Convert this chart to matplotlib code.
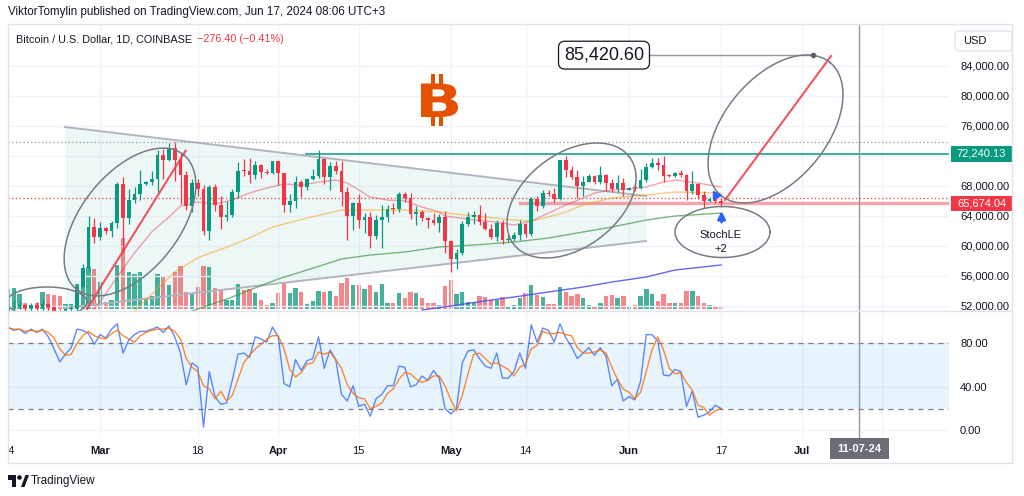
import numpy as np
import pandas as pd
import matplotlib
matplotlib.use("Agg")
import matplotlib.pyplot as plt
import matplotlib.dates as mdates
import matplotlib.transforms as mtrans
from matplotlib.patches import Rectangle, FancyBboxPatch, Polygon, Circle, PathPatch
from matplotlib.textpath import TextPath
from matplotlib.font_manager import FontProperties

plt.rcParams['font.family'] = ['Liberation Sans', 'DejaVu Sans']

# ------------------------------------------------------------------ data
start_date = '2024-02-14'   # first daily candle (BTC/USD, COINBASE, 1D)

opens = [49700, 51800, 51900, 52150, 51650, 52150, 51700, 52300, 51800, 51300, 50750, 51600, 51750, 54500, 57050, 62450,
         61150, 62400, 61950, 63100, 68300, 63750, 66100, 66900, 68300, 68450, 68950, 72100, 71450, 73100, 71400, 69450,
         65300, 68400, 67600, 61950, 67900, 65500, 63800, 64050, 67200, 70000, 69950, 69450, 70750, 69900, 69650,
         71300, 69700, 65450, 65950, 68500, 67850, 68900, 69350, 71600, 69150, 70600, 70000, 67150, 63950, 65700,
         63450, 63800, 61300, 63500, 63800, 64950, 64900, 66850, 66400, 64300, 64500, 63750, 63450, 63100, 63850,
         60650, 58300, 59100, 62900, 63900, 64050, 63200, 62300, 61200, 63100, 60800, 60850, 61500, 62900, 61600,
         66250, 65250, 67050, 66950, 66250, 71450, 70150, 69150, 67950, 68550, 69300, 68500, 69400, 68350, 67600, 68400,
         67500, 67750, 67700, 68800, 70550, 71100, 70800, 69350, 69300, 69650, 69500, 67300, 68250, 66750, 66000, 66200, 65950]
highs = [52000, 52800, 52600, 52200, 52350, 52450, 52950, 52400, 52000, 51550, 51700, 51950, 54900, 57550, 63950, 63650,
         63150, 62450, 63250, 68500, 69200, 67600, 67900, 70150, 68600, 69950, 72800, 72950, 73650, 73800, 72400, 70000,
         68900, 68950, 68100, 68100, 68250, 66650, 65950, 67550, 71150, 71550, 71700, 71300, 70900, 70300, 71350,
         71350, 69700, 66900, 69300, 68750, 69000, 70300, 72750, 71750, 71150, 71250, 71250, 67900, 65850, 66850,
         64350, 64500, 64100, 65450, 65400, 65650, 67200, 67200, 67050, 65250, 64800, 63900, 64350, 64200, 64700,
         60800, 59600, 63300, 64500, 64600, 65500, 64400, 62950, 63400, 63450, 61500, 61850, 63450, 63100, 66450,
         66700, 67450, 67450, 67700, 71500, 71950, 70650, 70100, 69250, 69550, 69500, 70600, 69550, 68900, 69500, 69000,
         67850, 68450, 70250, 71050, 71750, 71650, 71950, 69550, 69850, 70150, 69550, 69950, 68350, 67300, 66450, 66950, 66400]
lows = [49250, 51300, 51600, 50700, 51200, 51500, 50650, 50800, 50950, 50550, 50600, 51300, 50900, 54450, 56700, 60400,
        60800, 61600, 61150, 62400, 59200, 62850, 65650, 66100, 68050, 68150, 67150, 68850, 71350, 68600, 65600, 64800,
        64550, 66600, 61500, 60800, 64600, 62300, 63250, 63800, 66400, 69300, 68400, 68950, 69100, 69600, 69600,
        68150, 64550, 64500, 65100, 66550, 67450, 68800, 69050, 68200, 67500, 69550, 65250, 60800, 62150, 62350,
        61700, 59750, 60850, 59650, 63150, 64300, 64550, 65850, 63600, 62800, 63300, 62400, 62800, 61800, 59100,
        56550, 56900, 58800, 62600, 62900, 62800, 62100, 60850, 60650, 60200, 60500, 60650, 60750, 61150, 61350,
        64600, 65100, 66700, 65850, 66100, 69200, 68850, 66400, 66650, 68500, 68200, 68250, 67250, 67150, 67150, 66650,
        67400, 67300, 67600, 68550, 70400, 70150, 68500, 69200, 69150, 69200, 66100, 66900, 66300, 65100, 65850, 65700, 65150]
closes = [51800, 51900, 52150, 51650, 52150, 51700, 52300, 51800, 51300, 50750, 51600, 51750, 54500, 57050, 62450, 61150,
          62400, 61950, 63100, 68300, 63750, 66100, 66900, 68300, 68450, 68950, 72100, 71450, 73100, 71400, 69450, 65300,
          68400, 67600, 61950, 67900, 65500, 63800, 64050, 67200, 70000, 69950, 69450, 70750, 69900, 69650, 71300,
          69700, 65450, 65950, 68500, 67850, 68900, 69350, 71600, 69150, 70600, 70000, 67150, 63950, 65700, 63450,
          63800, 61300, 63500, 63800, 64950, 64900, 66850, 66400, 64300, 64500, 63750, 63450, 63100, 63850, 60650,
          58300, 59100, 62900, 63900, 64050, 63200, 62300, 61200, 63100, 60800, 60850, 61500, 62900, 61600, 66250,
          65250, 67050, 66950, 66250, 71450, 70150, 69150, 67950, 68550, 69300, 68500, 69400, 68350, 67600, 68400, 67500,
          67750, 67700, 68800, 70550, 71100, 70800, 69350, 69300, 69650, 69500, 67300, 68250, 66750, 66000, 66200, 65950, 65674.04]
# volume in thousand BTC (estimated bar heights)
volume_k = [20, 21, 15, 6, 4, 6, 17, 15, 14, 13, 5, 5, 25, 41, 42, 40,
            27, 7, 9, 44, 71, 37, 35, 37, 10, 13, 35, 32, 24, 37, 43, 17, 15, 22, 43, 42, 21, 20, 9, 9, 25, 19, 20, 16, 9, 4, 6,
            16, 26, 16, 21, 17, 5, 8, 18, 17, 18, 13, 26, 31, 24, 24, 20, 24, 17, 25, 6, 6, 16, 11, 17, 16, 11, 6, 6, 4, 23,
            29, 15, 17, 7, 6, 13, 12, 9, 9, 12, 3, 4, 11, 16, 24, 14, 12, 5, 5, 22, 17, 13, 15, 11, 4, 3, 6, 13, 14, 11, 13,
            3, 4, 13, 20, 15, 8, 15, 6, 6, 6, 18, 18, 13, 6, 4, 2, 2]
# Stoch RSI (3, 3, 14, 14)
stoch_k = [95, 92, 93, 89, 93, 90, 93, 86, 75, 63, 70, 76, 93, 92, 89, 79,
           88, 85, 93, 98, 71, 83, 88, 91, 91, 93, 95, 90, 96, 86, 71, 42, 62, 58, 3, 54, 31, 24, 25, 46, 70, 71, 67, 86, 84, 81, 95,
           86, 43, 40, 65, 55, 64, 66, 86, 57, 74, 65, 33, 27, 41, 22, 24, 13, 29, 33, 41, 41, 59, 58, 40, 42, 50, 46, 55, 48, 20,
           15, 20, 62, 73, 74, 66, 59, 57, 71, 48, 48, 54, 71, 57, 97, 81, 94, 92, 81, 98, 85, 77, 66, 71, 76, 69, 76, 68, 41, 47, 27,
           31, 28, 45, 88, 88, 82, 51, 50, 56, 54, 22, 36, 12, 14, 17, 23, 20]
stoch_d = [94, 93, 93, 91, 92, 91, 92, 90, 85, 75, 69, 70, 80, 87, 91, 87,
           85, 84, 89, 92, 87, 84, 81, 87, 90, 92, 93, 93, 94, 91, 84, 66, 58, 54, 41, 38, 29, 36, 27, 32, 47, 62, 69, 75, 79, 84, 87,
           87, 75, 56, 49, 53, 61, 62, 72, 70, 72, 65, 57, 42, 34, 30, 29, 20, 22, 25, 34, 38, 47, 53, 52, 47, 44, 46, 50, 50, 41,
           28, 18, 32, 52, 70, 71, 66, 61, 62, 59, 56, 50, 58, 61, 75, 78, 91, 89, 89, 90, 88, 87, 76, 71, 71, 72, 74, 71, 58, 47, 38,
           35, 29, 35, 54, 74, 86, 74, 57, 52, 53, 44, 37, 23, 21, 14, 18, 20]

# moving averages
ma20_dates = ['2024-02-29', '2024-03-01', '2024-03-04', '2024-03-07', '2024-03-10', '2024-03-13', '2024-03-15', '2024-03-18',
              '2024-03-21', '2024-03-24', '2024-03-27', '2024-03-30', '2024-04-02', '2024-04-05', '2024-04-08', '2024-04-11',
              '2024-04-13', '2024-04-15', '2024-04-17', '2024-04-20', '2024-04-23', '2024-04-26', '2024-04-29', '2024-04-30',
              '2024-05-05', '2024-05-09', '2024-05-12', '2024-05-15', '2024-05-18', '2024-05-21', '2024-05-24', '2024-05-26',
              '2024-05-29', '2024-06-01', '2024-06-04', '2024-06-07', '2024-06-09', '2024-06-13', '2024-06-17']
ma20_vals = [51570, 52500, 55840, 59040, 61840, 63840, 65300, 65840, 65570, 66100, 67040, 67700, 68240, 68100, 68500, 68770,
             68370, 67440, 66500, 66100, 65970, 65170, 64500, 63970, 63440, 63170, 62770, 63300, 64370, 65440, 66370, 67040,
             67440, 67570, 67840, 68500, 68770, 68370, 67840]
ma50_dates = ['2024-03-07', '2024-03-09', '2024-03-11', '2024-03-14', '2024-03-18', '2024-03-24', '2024-03-27', '2024-03-31',
              '2024-04-06', '2024-04-12', '2024-04-17', '2024-04-23', '2024-04-29', '2024-05-05', '2024-05-12', '2024-05-15',
              '2024-05-18', '2024-05-21', '2024-05-24', '2024-05-29', '2024-06-04', '2024-06-09', '2024-06-17']
ma50_vals = [51300, 52800, 54300, 56500, 58400, 60100, 61040, 62500, 63700, 64770, 64770, 64770, 64500, 63970, 63440, 63300,
             63840, 64500, 65440, 66370, 66770, 67170, 67040]
ma100_dates = ['2024-03-17', '2024-03-24', '2024-03-27', '2024-04-01', '2024-04-06', '2024-04-12', '2024-04-17', '2024-04-23',
               '2024-04-29', '2024-05-05', '2024-05-12', '2024-05-18', '2024-05-24', '2024-05-29', '2024-06-04', '2024-06-09',
               '2024-06-17']
ma100_vals = [51300, 53170, 54100, 55570, 56770, 58240, 58770, 59170, 59840, 60100, 60500, 61040, 61840, 62500, 63440, 63970, 64370]
ma200_dates = ['2024-04-26', '2024-05-01', '2024-05-08', '2024-05-12', '2024-05-18', '2024-05-24', '2024-05-29', '2024-06-04',
               '2024-06-09', '2024-06-17']
ma200_vals = [51440, 51970, 52770, 53170, 53840, 54500, 55170, 55840, 56770, 57440]

# levels and labels
ath_level = 73800
resistance_level = 72240.13
last_price = 65674.04
price_line_dotted = 66370
target_price = 85420.60
price_ticks = [52000, 56000, 60000, 64000, 68000, 72000, 76000, 80000, 84000]
hidden_price_labels = [72000]          # covered by the 72,240.13 marker
stoch_ticks = [0, 40, 80]
time_tick_dates = ['2024-02-14', '2024-03-01', '2024-03-18', '2024-04-01', '2024-04-15', '2024-05-01', '2024-05-14',
                   '2024-06-01', '2024-06-17', '2024-07-01', '2024-07-15']
time_tick_labels = ['14', 'Mar', '18', 'Apr', '15', 'May', '14', 'Jun', '17', 'Jul', '']
cursor_date = '2024-07-11'

# ------------------------------------------------------------------ layout
W, H = 1024, 496
fig = plt.figure(figsize=(W / 100, H / 100), dpi=100)
fig.patch.set_facecolor('white')

L, R = 8, 949
TOP, SEP, BOT = 24, 310.5, 438
rect_main = [L / W, 1 - SEP / H, (R - L) / W, (SEP - TOP) / H]
rect_st = [L / W, 1 - BOT / H, (R - L) / W, (BOT - SEP) / H]

ax = fig.add_axes(rect_main)
ax_vol = ax.twinx()
ax.set_zorder(2)
ax_vol.set_zorder(1)
ax.patch.set_visible(False)
ax_st = fig.add_axes(rect_st, sharex=ax)

def dnum(s):
    return mdates.date2num(np.datetime64(s))

base = dnum('2024-03-01')
def day(d):
    return base + d

dates = pd.date_range(start_date, periods=len(closes), freq='D')
xs = mdates.date2num(dates.values)
o = np.array(opens, float); h = np.array(highs, float)
lo = np.array(lows, float); c = np.array(closes, float)
up = c >= o
GREEN, RED = '#089981', '#f23645'

ax.set_xlim(day(-16), day(147.65))
ax.set_ylim(51373, 89573)
ax_vol.set_ylim(-1.5, 285)
ax_st.set_ylim(-7.08, 110.2)

for a in (ax, ax_vol, ax_st):
    for sp in a.spines.values():
        sp.set_visible(False)

# grid / ticks
tick_x = [dnum(s) for s in time_tick_dates]
ax_st.set_xticks(tick_x)
ax_st.set_xticklabels(time_tick_labels)
for lab in ax_st.get_xticklabels():
    if lab.get_text() in ('Mar', 'Apr', 'May', 'Jun', 'Jul'):
        lab.set_fontweight('bold')
ax_st.tick_params(axis='x', length=0, pad=6, labelsize=8, labelcolor='#131722')
ax.tick_params(axis='x', length=0, labelbottom=False)
ax_vol.tick_params(axis='both', length=0, labelbottom=False, labelright=False, labelleft=False)
ax_vol.set_yticks([])

ax.yaxis.tick_right()
ax.set_yticks(price_ticks)
ax.set_yticklabels(['' if v in hidden_price_labels else f'{v:,.2f}' for v in price_ticks])
ax.tick_params(axis='y', length=0, pad=8, labelsize=8, labelcolor='#131722')
ax_st.yaxis.tick_right()
ax_st.set_yticks(stoch_ticks)
ax_st.set_yticklabels([f'{v:.2f}' for v in stoch_ticks])
ax_st.tick_params(axis='y', length=0, pad=8, labelsize=8, labelcolor='#131722')

ax.set_axisbelow(True)
ax.grid(True, color='#f0f3fa', lw=1)
ax_st.set_axisbelow(True)
ax_st.grid(True, color='#f0f3fa', lw=1)

# volume
vol_colors = np.where(up, '#46b29b', '#f7868b')
ax_vol.bar(xs, volume_k, width=0.78, color=vol_colors, lw=0)

# symmetrical triangle drawing
tri_x = [day(-6.087), day(94.96)]
tri_upper = [75840, 66640]
tri_lower = [51707, 60640]
ax.fill_between(tri_x, tri_lower, tri_upper, color=GREEN, alpha=0.07, lw=0, zorder=1)
ax.plot(tri_x, tri_upper, color='#b2b5be', lw=1.4, zorder=2)
ax.plot(tri_x, tri_lower, color='#b2b5be', lw=1.4, zorder=2)

# horizontal levels
ax.axhline(ath_level, color='#9598a1', lw=0.9, ls=(0, (1, 2)), zorder=2)
ax.axhline(price_line_dotted, color=RED, lw=0.9, ls=(0, (1, 2)), zorder=2)
x_right = day(147.65)
ax.plot([day(35.9), x_right], [resistance_level] * 2, color=GREEN, lw=1.1, zorder=3)
ax.plot([day(73.0), x_right], [last_price] * 2, color=RED, lw=2.4, alpha=0.45, zorder=3)

# moving averages
def ma_line(dl, vl, **kw):
    ax.plot(mdates.date2num(pd.to_datetime(dl).values), vl, **kw)

ma_line(ma200_dates, ma200_vals, color='#4a4af0', lw=1.0, alpha=0.85, zorder=3)
ma_line(ma100_dates, ma100_vals, color='#388e3c', lw=1.0, alpha=0.65, zorder=3)
ma_line(ma50_dates, ma50_vals, color='#ff9800', lw=1.0, alpha=0.5, zorder=3)
ma_line(ma20_dates, ma20_vals, color=RED, lw=1.0, alpha=0.45, zorder=3)

# candles
ax.vlines(xs, lo, h, colors=np.where(up, GREEN, RED), lw=0.9, zorder=4)
body_b = np.minimum(o, c)
body_h = np.maximum(np.abs(c - o), 130)
ax.bar(xs, body_h, bottom=body_b, width=0.66, color=np.where(up, GREEN, RED), lw=0, zorder=5)

# trend lines
ax.plot([day(-2.26), day(14.9)], [51573, 72680], color=RED, lw=1.5, alpha=0.85, zorder=6)
ax.plot([day(108.7), day(127.13)], [66107, 85307], color=RED, lw=1.5, alpha=0.85, zorder=6)

# target callout
ax.plot([day(87.65), day(124.0)], [target_price] * 2, color='#9598a1', lw=1.0, zorder=6)
ax.plot([day(124.0)], [target_price], 'o', color='#5d606b', ms=3, zorder=7)
ax.text(day(87.65), target_price, f'{target_price:,.2f}', ha='center', va='center', fontsize=13,
        color='#131722', zorder=8,
        bbox=dict(boxstyle='round,pad=0.3,rounding_size=0.35', fc='white', ec='#131722', lw=0.9))

# StochLE signal
ax.annotate('', xy=(day(108.1), 65000), xytext=(day(108.1), 62800),
            arrowprops=dict(arrowstyle='-|>', color='#2962ff', lw=2.0, mutation_scale=11), zorder=7)
ax.plot([day(107.25)], [66770], marker='>', color='#2962ff', ms=5.5, zorder=7)
ax.text(day(108.0), 61440, 'StochLE', ha='center', va='center', fontsize=8, color='#131722', zorder=7)
ax.text(day(108.0), 59570, '+2', ha='center', va='center', fontsize=8, color='#131722', zorder=7)

# cursor vertical line
for a in (ax, ax_st):
    a.axvline(dnum(cursor_date), color='#9598a1', lw=1.0, zorder=6)

# ellipses (major-axis endpoints in data coords, minor half-width in px)
def ellipse(axx, p1, p2, half_minor_px, **kw):
    T = axx.transData
    a = T.transform(p1); b = T.transform(p2)
    cc = (a + b) / 2; u = (b - a) / 2
    n = np.array([-u[1], u[0]]) / np.hypot(*u) * half_minor_px
    t = np.linspace(0, 2 * np.pi, 300)
    pts = cc + np.outer(np.cos(t), u) + np.outer(np.sin(t), n)
    dpts = T.inverted().transform(pts)
    axx.plot(dpts[:, 0], dpts[:, 1], **kw)

ell_kw = dict(color='#787b86', lw=1.1, zorder=6)
ellipse(ax, (day(-16.17), 52507), (day(-2.26), 52507), 15, **ell_kw)
ellipse(ax, (day(-4.09), 54200), (day(14.52), 72147), 49, **ell_kw)
ellipse(ax, (day(71.91), 60240), (day(92.09), 71840), 47, **ell_kw)
ellipse(ax, (day(108.0), 66707), (day(126.96), 84440), 51.4, **ell_kw)
ellipse(ax, (day(100.0), 61840), (day(116.52), 61840), 25.5, **ell_kw)

# right price labels
bt = mtrans.blended_transform_factory(ax.transAxes, ax.transData)
x_box0 = (951 - L) / (R - L)
x_boxw = (1012 - 951) / (R - L)
x_txt = (981.5 - L) / (R - L)
ax.add_patch(Rectangle((x_box0, resistance_level - 1067), x_boxw, 2133, transform=bt, fc=GREEN, ec='none',
                       clip_on=False, zorder=10))
ax.text(x_txt, resistance_level, f'{resistance_level:,.2f}', transform=bt, ha='center', va='center',
        fontsize=8, color='white', clip_on=False, zorder=11)
ax.add_patch(Rectangle((x_box0, last_price - 1000), x_boxw, 2000, transform=bt, fc=RED, ec='none',
                       clip_on=False, zorder=10))
ax.text(x_txt, last_price, f'{last_price:,.2f}', transform=bt, ha='center', va='center',
        fontsize=8, color='white', clip_on=False, zorder=11)

# stochastic pane
ax_st.axhspan(20, 80, color='#2196f3', alpha=0.1, lw=0, zorder=1)
ax_st.axhline(80, color='#787b86', lw=0.9, ls=(0, (4, 4)), zorder=2)
ax_st.axhline(20, color='#787b86', lw=0.9, ls=(0, (4, 4)), zorder=2)
ax_st.plot(xs, stoch_k, color='#2962ff', lw=1.0, alpha=0.75, zorder=3)
ax_st.plot(xs, stoch_d, color='#ff6d00', lw=1.0, alpha=0.8, zorder=3)

# cursor date label
bts = mtrans.blended_transform_factory(ax_st.transData, ax_st.transAxes)
cx = dnum(cursor_date)
ax_st.add_patch(Rectangle((cx - 5.13, (BOT - 459) / (BOT - SEP)), 10.26, 21 / (BOT - SEP), transform=bts,
                          fc='#6a6d78', ec='none', clip_on=False, zorder=10))
ax_st.text(cx, (BOT - 448.5) / (BOT - SEP), '11-07-24', transform=bts, ha='center', va='center', fontsize=8,
           color='white', fontweight='bold', clip_on=False, zorder=11)

# ------------------------------------------------------------------ overlay decorations (pixel space)
ov = fig.add_axes([0, 0, 1, 1], zorder=20)
ov.set_xlim(0, W); ov.set_ylim(H, 0); ov.axis('off')
ov.add_patch(Rectangle((0, 440), 7.5, 22, fc='white', ec='none'))
ov.add_patch(Rectangle((8, 24), 1004, 439, fill=False, ec='#e0e3eb', lw=1))
ov.plot([8, 1012], [SEP, SEP], color='#e0e3eb', lw=1)
ov.add_patch(FancyBboxPatch((955, 31), 57, 20, boxstyle='round,pad=0,rounding_size=4', fc='white',
                            ec='#e0e3eb', lw=1))
ov.text(963, 41.5, 'USD', ha='left', va='center', fontsize=8, color='#131722')

# bitcoin logo: heavy wide "B" with two bars above and below
LOGO = '#e65100'
tp = TextPath((0, 0), 'B', size=10, prop=FontProperties(family='DejaVu Sans', weight='bold'))
ext = tp.get_extents()
bx0, by0, bw, bh = 421, 83.5, 37, 33.5
logo_tr = (mtrans.Affine2D().translate(-ext.x0, -ext.y0)
           .scale(bw / ext.width, -bh / ext.height).translate(bx0, by0 + bh) + ov.transData)
ov.add_patch(PathPatch(tp, transform=logo_tr, fc=LOGO, ec='none'))
for bxx in (430.8, 439.4):
    ov.add_patch(Rectangle((bxx, 74), 3.8, 10, fc=LOGO, ec='none'))
    ov.add_patch(Rectangle((bxx, 116.5), 3.8, 9, fc=LOGO, ec='none'))

# TradingView logo
ov.add_patch(Rectangle((8, 475), 8, 4.5, fc='#131722', ec='none'))
ov.add_patch(Rectangle((12, 475), 4, 12, fc='#131722', ec='none'))
ov.add_patch(Circle((19.5, 477.5), 2.3, fc='#131722', ec='none'))
ov.add_patch(Polygon([(21, 487), (25.5, 475), (29, 475), (24.5, 487)], closed=True, fc='#131722', ec='none'))
ov.text(31, 481, 'TradingView', ha='left', va='center', fontsize=8.5, color='#131722')

fig.text(8 / W, 1 - 12 / H, 'ViktorTomylin published on TradingView.com, Jun 17, 2024 08:06 UTC+3',
         ha='left', va='center', fontsize=8.4, color='#131722')
fig.text(16 / W, 1 - 39 / H, 'Bitcoin / U.S. Dollar, 1D, COINBASE', ha='left', va='center',
         fontsize=7.8, color='#131722')
fig.text(197 / W, 1 - 39 / H, '\u2212276.40 (\u22120.41%)', ha='left', va='center', fontsize=7.8, color=RED)

fig.savefig('out.png', dpi=100, facecolor='white')
